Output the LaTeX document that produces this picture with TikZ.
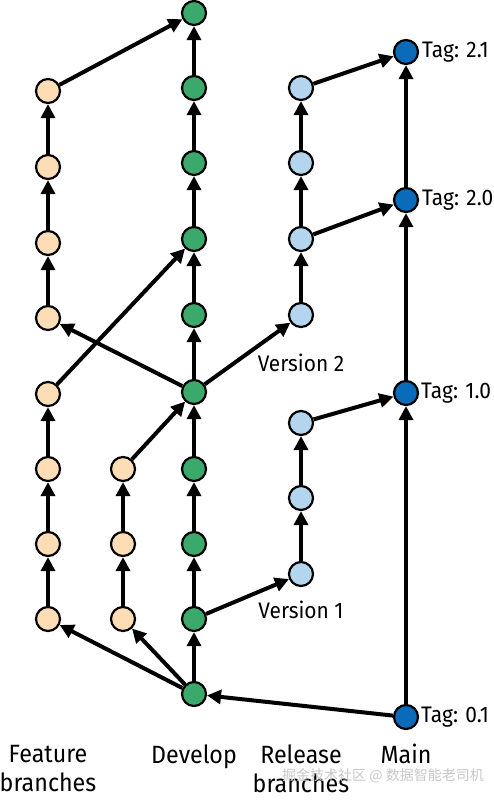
\documentclass[tikz,border=0pt]{standalone}
\usepackage{fontspec}
\setmainfont{Fira Sans}[FakeStretch=0.93]
\newfontfamily\cjkwm{Noto Sans CJK SC}
\usetikzlibrary{arrows.meta}
\definecolor{featc}{HTML}{FCDDB6}
\definecolor{devc}{HTML}{3CA96C}
\definecolor{relc}{HTML}{B4D5EE}
\definecolor{mainc}{HTML}{0A6BBA}
\tikzset{
  commit/.style={circle, draw=black, line width=2.2pt, minimum size=24pt, inner sep=0pt},
  feat/.style={commit, fill=featc},
  dev/.style={commit, fill=devc},
  rel/.style={commit, fill=relc},
  mainn/.style={commit, fill=mainc},
  conn/.style={line width=4pt, -{Triangle[length=14pt,width=14pt]}},
  lbl/.style={font=\fontsize{22.5}{24}\selectfont, inner sep=0pt},
  head/.style={font=\fontsize{25}{29}\selectfont, align=center, inner sep=0pt},
}
\begin{document}
\begin{tikzpicture}[x=1pt,y=-1pt]
\useasboundingbox (0,0) rectangle (494,800);
% develop
\node[dev] (d0) at (194,13) {};
\node[dev] (d1) at (194,88) {};
\node[dev] (d2) at (194,163) {};
\node[dev] (d3) at (194,239) {};
\node[dev] (d4) at (194,315) {};
\node[dev] (d5) at (194,392) {};
\node[dev] (d6) at (194,469) {};
\node[dev] (d7) at (194,544) {};
\node[dev] (d8) at (194,619) {};
\node[dev] (d9) at (194,694) {};
% feature 1 top
\node[feat] (fa1) at (48,91) {};
\node[feat] (fa2) at (48,167) {};
\node[feat] (fa3) at (48,243) {};
\node[feat] (fa4) at (48,318) {};
% feature 1 bottom
\node[feat] (fb1) at (48,394) {};
\node[feat] (fb2) at (48,469) {};
\node[feat] (fb3) at (48,544) {};
\node[feat] (fb4) at (48,619) {};
% feature 2
\node[feat] (fc1) at (123,469) {};
\node[feat] (fc2) at (123,544) {};
\node[feat] (fc3) at (123,619) {};
% release 2
\node[rel] (ra1) at (301,88) {};
\node[rel] (ra2) at (301,163) {};
\node[rel] (ra3) at (301,239) {};
\node[rel] (ra4) at (301,315) {};
% release 1
\node[rel] (rb1) at (301,423) {};
\node[rel] (rb2) at (301,498) {};
\node[rel] (rb3) at (301,574) {};
% main
\node[mainn] (m1) at (406,52) {};
\node[mainn] (m2) at (406,200) {};
\node[mainn] (m3) at (406,393) {};
\node[mainn] (m4) at (406,717) {};

% develop chain
\draw[conn] (d9) -- (d8);
\draw[conn] (d8) -- (d7);
\draw[conn] (d7) -- (d6);
\draw[conn] (d6) -- (d5);
\draw[conn] (d5) -- (d4);
\draw[conn] (d4) -- (d3);
\draw[conn] (d3) -- (d2);
\draw[conn] (d2) -- (d1);
\draw[conn] (d1) -- (d0);
% feature top
\draw[conn] (d5) -- (fa4);
\draw[conn] (fa4) -- (fa3);
\draw[conn] (fa3) -- (fa2);
\draw[conn] (fa2) -- (fa1);
\draw[conn] (fa1) -- (d0);
% feature bottom
\draw[conn] (d9) -- (fb4);
\draw[conn] (fb4) -- (fb3);
\draw[conn] (fb3) -- (fb2);
\draw[conn] (fb2) -- (fb1);
\draw[conn] (fb1) -- (d3);
% feature 2
\draw[conn] (d9) -- (fc3);
\draw[conn] (fc3) -- (fc2);
\draw[conn] (fc2) -- (fc1);
\draw[conn] (fc1) -- (d5);
% release 2
\draw[conn] (d5) -- (ra4);
\draw[conn] (ra4) -- (ra3);
\draw[conn] (ra3) -- (ra2);
\draw[conn] (ra2) -- (ra1);
\draw[conn] (ra3) -- (m2);
\draw[conn] (ra1) -- (m1);
% release 1
\draw[conn] (d8) -- (rb3);
\draw[conn] (rb3) -- (rb2);
\draw[conn] (rb2) -- (rb1);
\draw[conn] (rb1) -- (m3);
% main
\draw[conn] (m4) -- (d9);
\draw[conn] (m4) -- (m3);
\draw[conn] (m3) -- (m2);
\draw[conn] (m2) -- (m1);

% labels
\node[lbl, anchor=west] (t21) at (422,52) {Tag: 2.1};
\node[lbl, anchor=west] (t20) at (422,200) {Tag: 2.0};
\node[lbl, anchor=west] (t10) at (421,393) {Tag: 1.0};
\node[lbl, anchor=west] (t01) at (421,717) {Tag: 0.1};
\node[lbl] (v2) at (301,363) {Version 2};
\node[lbl] (v1) at (301,610) {Version 1};

\node[head] (hf) at (48,769) {Feature\\branches};
\node[head, anchor=base] (hd) at (194,763) {Develop};
\node[head] (hr) at (301,769) {Release\\branches};
\node[head, anchor=base] (hm) at (406,763) {Main};

\node[font=\cjkwm\fontsize{14}{16}\selectfont, text=black!22, inner sep=0pt] (wm) at (383,776) {掘金技术社区 @ 数据智能老司机};
\end{tikzpicture}
\end{document}
